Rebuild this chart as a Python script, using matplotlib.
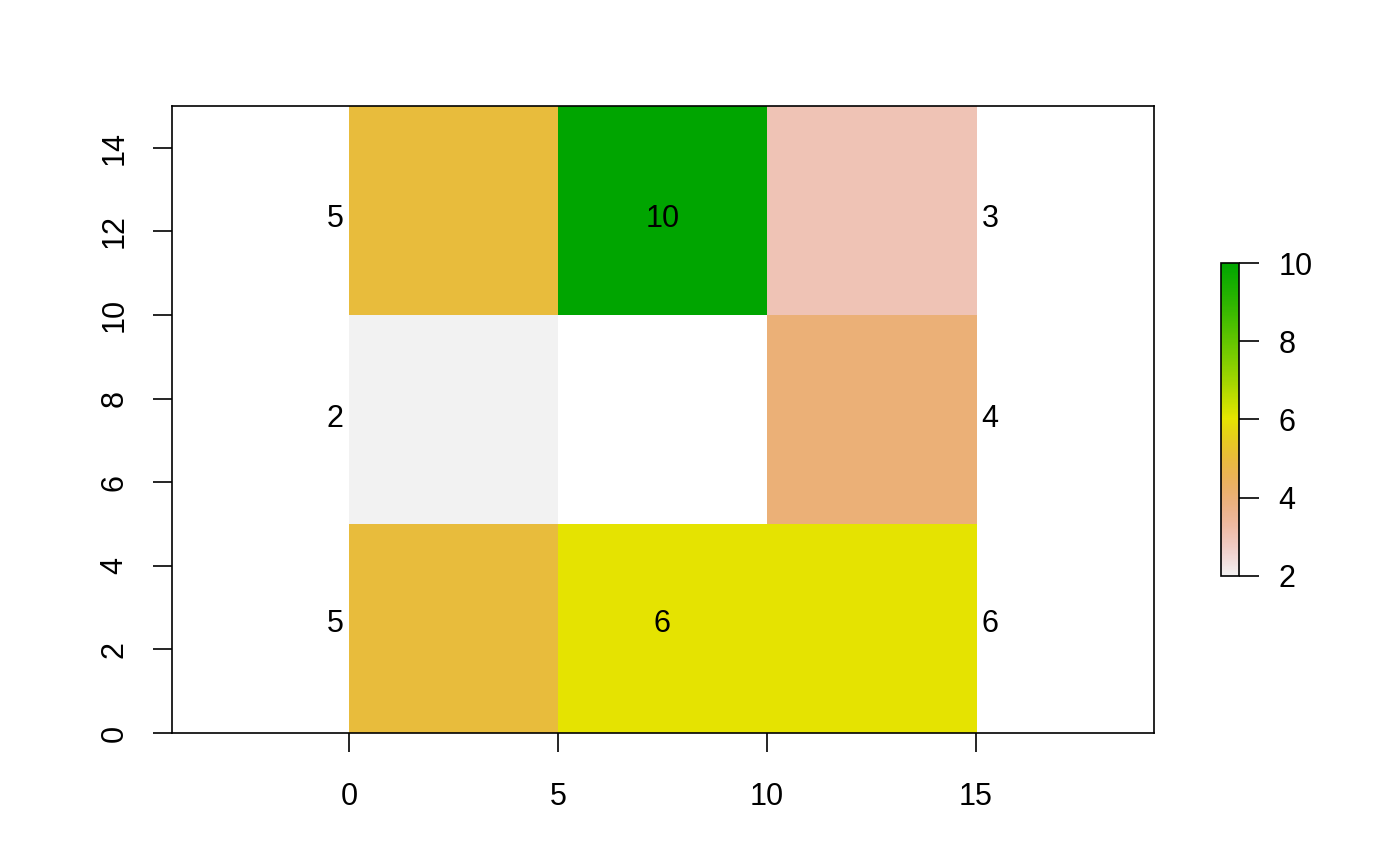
import colorsys
import numpy as np
import matplotlib
matplotlib.use("Agg")
import matplotlib.pyplot as plt
from matplotlib.colors import ListedColormap, Normalize
from matplotlib.cm import ScalarMappable

plt.rcParams["font.family"] = ["Liberation Sans", "DejaVu Sans"]

# raster values, top row first (nan = no data)
cell_values = [
    [5, 10, 3],
    [2, np.nan, 4],
    [5, 6, 6],
]
extent = [0, 15, 0, 15]

# text labels drawn on top of the raster
label_x = [0, 7.5, 15, 0, 15, 0, 7.5, 15]
label_y = [12.3, 12.3, 12.3, 7.5, 7.5, 2.6, 2.6, 2.6]
label_text = ["5", "10", "3", "2", "4", "5", "6", "6"]

x_ticks = [0, 5, 10, 15]
y_ticks = [0, 2, 4, 6, 8, 10, 12, 14]
cbar_ticks = [2, 4, 6, 8, 10]
vmin, vmax = 2, 10


def terrain_colors(n):
    # same recipe as R's grDevices::terrain.colors
    k = n // 2
    cols = []
    for i in range(k):
        t = i / (k - 1)
        h = 4 / 12 + (2 / 12 - 4 / 12) * t
        v = 0.65 + (0.9 - 0.65) * t
        cols.append(colorsys.hsv_to_rgb(h, 1.0, v))
    m = n - k + 1
    for i in range(1, m):
        t = i / (m - 1)
        h = 2 / 12 * (1 - t)
        s = 1 - t
        v = 0.9 + 0.05 * t
        cols.append(colorsys.hsv_to_rgb(h, s, v))
    return cols


cmap = ListedColormap(terrain_colors(255)[::-1])
norm = Normalize(vmin=vmin, vmax=vmax)
fs = 22

fig = plt.figure(figsize=(14, 8.66), dpi=100)
ax = fig.add_axes([0.1229, 0.1536, 0.7014, 0.7240])

data = np.ma.masked_invalid(np.array(cell_values, dtype=float))
ax.imshow(data, cmap=cmap, norm=norm, extent=extent, origin="upper",
          interpolation="nearest", aspect="auto")

for x, y, s in zip(label_x, label_y, label_text):
    if x <= extent[0]:
        ha, dx = "right", -4
    elif x >= extent[1]:
        ha, dx = "left", 4
    else:
        ha, dx = "center", 0
    ax.annotate(s, (x, y), xytext=(dx, 0), textcoords="offset points",
                ha=ha, va="center", fontsize=fs)

ax.set_xlim(-4.23, 19.26)
ax.set_ylim(0, 15)
ax.set_xticks(x_ticks)
ax.set_yticks(y_ticks)
ax.tick_params(axis="both", direction="out", length=13.7, width=1.2,
               labelsize=fs)
ax.tick_params(axis="x", pad=21.5)
ax.tick_params(axis="y", pad=17, labelrotation=90)
for lab in ax.get_yticklabels():
    lab.set_va("center")
for sp in ax.spines.values():
    sp.set_linewidth(1.2)

cax = fig.add_axes([0.8721, 0.3349, 0.0129, 0.3614])
sm = ScalarMappable(norm=norm, cmap=cmap)
cb = fig.colorbar(sm, cax=cax, ticks=cbar_ticks)
cb.outline.set_linewidth(1.2)
cax.tick_params(direction="out", length=14.4, width=1.2, labelsize=fs, pad=14)

fig.savefig("out.png", dpi=100, facecolor="white")
